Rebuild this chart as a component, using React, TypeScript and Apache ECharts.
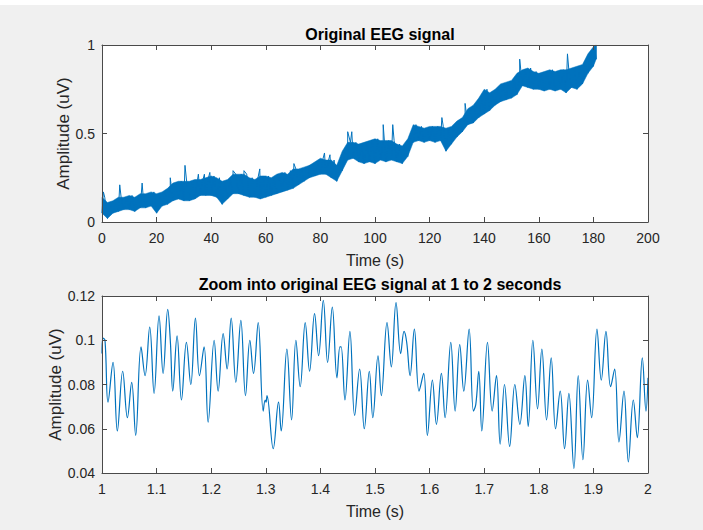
import React, { useEffect, useRef } from "react";
import * as echarts from "echarts";

// ---- Top panel: envelope of the dense EEG trace, read every 2 s (plus end at 181 s)
const topTime = [
  0, 2, 4, 6, 8, 10, 12, 14, 16, 18,
  20, 22, 24, 26, 28, 30, 32, 34, 36, 38,
  40, 42, 44, 46, 48, 50, 52, 54, 56, 58,
  60, 62, 64, 66, 68, 70, 72, 74, 76, 78,
  80, 82, 84, 86, 88, 90, 92, 94, 96, 98,
  100, 102, 104, 106, 108, 110, 112, 114, 116, 118,
  120, 122, 124, 126, 128, 130, 132, 134, 136, 138,
  140, 142, 144, 146, 148, 150, 152, 154, 156, 158,
  160, 162, 164, 166, 168, 170, 172, 174, 176, 178,
  180, 181,
];
const topLow = [
  0.05, 0.02, 0.05, 0.06, 0.07, 0.07, 0.06, 0.08, 0.08, 0.09,
  0.05, 0.09, 0.1, 0.12, 0.13, 0.12, 0.12, 0.13, 0.15, 0.15,
  0.15, 0.14, 0.1, 0.13, 0.16, 0.16, 0.15, 0.14, 0.14, 0.13,
  0.14, 0.15, 0.16, 0.17, 0.18, 0.19, 0.21, 0.23, 0.25, 0.26,
  0.27, 0.27, 0.25, 0.23, 0.29, 0.35, 0.36, 0.34, 0.33, 0.34,
  0.33, 0.35, 0.34, 0.35, 0.34, 0.33, 0.37, 0.45, 0.46, 0.45,
  0.46, 0.45, 0.46, 0.4, 0.44, 0.48, 0.51, 0.55, 0.56, 0.59,
  0.61, 0.63, 0.66, 0.68, 0.69, 0.7, 0.72, 0.77, 0.76, 0.75,
  0.75, 0.74, 0.75, 0.74, 0.75, 0.73, 0.76, 0.75, 0.78, 0.84,
  0.88, 0.92,
];
const topHigh = [
  0.14, 0.11, 0.12, 0.14, 0.14, 0.15, 0.14, 0.16, 0.16, 0.17,
  0.16, 0.17, 0.19, 0.22, 0.23, 0.23, 0.23, 0.24, 0.24, 0.25,
  0.26, 0.25, 0.23, 0.24, 0.27, 0.27, 0.27, 0.25, 0.24, 0.26,
  0.26, 0.25, 0.27, 0.28, 0.27, 0.3, 0.3, 0.31, 0.32, 0.34,
  0.36, 0.35, 0.35, 0.32, 0.4, 0.45, 0.45, 0.44, 0.45, 0.46,
  0.47, 0.46, 0.46, 0.46, 0.44, 0.43, 0.47, 0.55, 0.54, 0.53,
  0.54, 0.54, 0.54, 0.53, 0.54, 0.57, 0.59, 0.64, 0.66, 0.7,
  0.75, 0.73, 0.75, 0.78, 0.79, 0.8, 0.84, 0.86, 0.87, 0.85,
  0.84, 0.85, 0.86, 0.85, 0.86, 0.86, 0.87, 0.88, 0.89, 0.95,
  0.99, 1.0,
];
// isolated spikes above the band
const spikeTime = [0.5, 6.5, 14.7, 25, 30.4, 35.3, 37.5, 39.5, 48, 52, 57.8, 69, 70.3, 76, 81.5, 83.5, 90, 91.5, 103, 106.5, 124.5, 133, 153, 170.5];
const spikeValue = [0.17, 0.21, 0.22, 0.25, 0.32, 0.27, 0.27, 0.28, 0.29, 0.29, 0.3, 0.29, 0.33, 0.32, 0.39, 0.38, 0.51, 0.51, 0.55, 0.55, 0.59, 0.67, 0.92, 0.95];

// ---- Bottom panel: zoom 1-2 s, turning points of the trace
const zoomTime = [
  1.0, 1.0018, 1.0055, 1.011, 1.0202, 1.0281, 1.0379, 1.0465, 1.0544, 1.0617,
  1.0715, 1.0789, 1.0874, 1.0954, 1.1045, 1.1119, 1.1204, 1.1253, 1.1296, 1.1375,
  1.1455, 1.1546, 1.1626, 1.1711, 1.1785, 1.187, 1.1944, 1.2054, 1.2127, 1.2219,
  1.2292, 1.2366, 1.2451, 1.2543, 1.2628, 1.2708, 1.2775, 1.2861, 1.2952, 1.2989,
  1.3005, 1.3022, 1.3136, 1.3233, 1.3282, 1.3386, 1.3472, 1.3551, 1.363, 1.3722,
  1.3802, 1.3893, 1.3967, 1.4053, 1.4132, 1.4218, 1.4303, 1.4358, 1.438, 1.445,
  1.4541, 1.4627, 1.4719, 1.4804, 1.4896, 1.496, 1.5055, 1.5116, 1.522, 1.5299,
  1.5385, 1.547, 1.5532, 1.5581, 1.5642, 1.5721, 1.5807, 1.5892, 1.596, 1.6051,
  1.6125, 1.6216, 1.6284, 1.6388, 1.6467, 1.6552, 1.6626, 1.6724, 1.6803, 1.6846,
  1.6901, 1.6956, 1.706, 1.7146, 1.7225, 1.7292, 1.7372, 1.7466, 1.7561, 1.7653,
  1.7745, 1.7806, 1.7891, 1.7977, 1.8056, 1.8142, 1.8227, 1.8307, 1.8392, 1.8472,
  1.8551, 1.8643, 1.8722, 1.8808, 1.8894, 1.8968, 1.9065, 1.9144, 1.923, 1.9315,
  1.9389, 1.9468, 1.956, 1.964, 1.9731, 1.9804, 1.9896, 1.9963, 2.0,
];
const zoomAmp = [
  0.094, 0.101, 0.1, 0.072, 0.09, 0.059, 0.086, 0.065, 0.081, 0.057,
  0.097, 0.084, 0.106, 0.076, 0.111, 0.085, 0.114, 0.099, 0.077, 0.102,
  0.073, 0.099, 0.08, 0.11, 0.084, 0.097, 0.063, 0.1, 0.077, 0.103,
  0.087, 0.11, 0.081, 0.109, 0.075, 0.1, 0.085, 0.108, 0.068, 0.073,
  0.072, 0.075, 0.051, 0.072, 0.059, 0.096, 0.064, 0.1, 0.079, 0.108,
  0.086, 0.112, 0.093, 0.118, 0.09, 0.115, 0.083, 0.097, 0.097, 0.073,
  0.104, 0.066, 0.087, 0.06, 0.086, 0.065, 0.093, 0.075, 0.108, 0.088,
  0.117, 0.094, 0.104, 0.099, 0.084, 0.105, 0.077, 0.085, 0.057, 0.082,
  0.062, 0.085, 0.065, 0.099, 0.068, 0.098, 0.077, 0.105, 0.068, 0.071,
  0.086, 0.059, 0.099, 0.068, 0.084, 0.053, 0.08, 0.052, 0.08, 0.062,
  0.084, 0.061, 0.1, 0.069, 0.096, 0.064, 0.092, 0.06, 0.077, 0.051,
  0.076, 0.042, 0.084, 0.046, 0.082, 0.065, 0.105, 0.082, 0.104, 0.079,
  0.087, 0.054, 0.077, 0.045, 0.073, 0.056, 0.092, 0.068, 0.083,
];

const BLUE = "#0072BD";
const AXIS = "#4a4a4a";
const LABEL = "#262626";
const FONT = "'Liberation Sans', Arial, Helvetica, sans-serif";

function makeX(grid: number, min: number, max: number, interval: number) {
  const common: any = {
    type: "value",
    gridIndex: grid,
    min,
    max,
    interval,
    z: 10,
    splitLine: { show: false },
    axisLine: { show: true, onZero: false, lineStyle: { color: AXIS, width: 1 } },
    axisTick: { show: true, inside: true, length: 5, lineStyle: { color: AXIS } },
  };
  return [
    {
      ...common,
      position: "bottom",
      name: "Time (s)",
      nameLocation: "middle",
      nameGap: 30,
      nameTextStyle: { color: LABEL, fontSize: 16, fontFamily: FONT },
      axisLabel: { color: LABEL, fontSize: 14, margin: 9, fontFamily: FONT },
    },
    { ...common, position: "top", axisLabel: { show: false } },
  ];
}

function makeY(grid: number, min: number, max: number, interval: number, gap: number) {
  const common: any = {
    type: "value",
    gridIndex: grid,
    min,
    max,
    interval,
    z: 10,
    splitLine: { show: false },
    axisLine: { show: true, onZero: false, lineStyle: { color: AXIS, width: 1 } },
    axisTick: { show: true, inside: true, length: 5, lineStyle: { color: AXIS } },
  };
  return [
    {
      ...common,
      position: "left",
      name: "Amplitude (uV)",
      nameLocation: "middle",
      nameGap: gap,
      nameMoveOverlap: false,
      nameTextStyle: { color: LABEL, fontSize: 17, fontFamily: FONT },
      axisLabel: { color: LABEL, fontSize: 14, margin: 7, fontFamily: FONT },
    },
    { ...common, position: "right", axisLabel: { show: false } },
  ];
}

export default function App() {
  const ref = useRef<HTMLDivElement>(null);
  useEffect(() => {
    if (!ref.current) return;
    const chart = echarts.init(ref.current, undefined, { renderer: "svg" });

    // jagged trace: alternate between the lower and upper envelope, with spikes merged in
    const zig: number[][] = [];
    topTime.forEach((t, i) => {
      zig.push([t, topLow[i]]);
      const next = i < topTime.length - 1 ? topTime[i + 1] : t;
      zig.push([(t + next) / 2, topHigh[i]]);
    });
    spikeTime.forEach((t, i) => zig.push([t, spikeValue[i]]));
    zig.sort((a, b) => a[0] - b[0]);
    const zoomData = zoomTime.map((t, i) => [t, zoomAmp[i]]);
    const bandData = topTime.map((t, i) => [t, topLow[i], topHigh[i]]);

    chart.setOption({
      animation: false,
      backgroundColor: "#f0f0f0",
      textStyle: { fontFamily: FONT },
      title: [
        {
          text: "Original EEG signal",
          left: 375,
          top: 21,
          textAlign: "center",
          textStyle: { fontSize: 16, fontWeight: "bold", color: "#000", fontFamily: FONT },
        },
        {
          text: "Zoom into original EEG signal at 1 to 2 seconds",
          left: 375,
          top: 271,
          textAlign: "center",
          textStyle: { fontSize: 16, fontWeight: "bold", color: "#000", fontFamily: FONT },
        },
      ],
      graphic: [
        { type: "rect", shape: { x: 0, y: 0, width: 703, height: 5 }, style: { fill: "#ffffff" }, z: -1 },
      ],
      grid: [
        { left: 102, top: 45, width: 546, height: 177, show: true, backgroundColor: "#ffffff", borderWidth: 0 },
        { left: 102, top: 296, width: 546, height: 177, show: true, backgroundColor: "#ffffff", borderWidth: 0 },
      ],
      xAxis: [...makeX(0, 0, 200, 20), ...makeX(1, 1, 2, 0.1)],
      yAxis: [...makeY(0, 0, 1, 0.5, 30), ...makeY(1, 0.04, 0.12, 0.02, 38)],
      series: [
        {
          type: "custom",
          xAxisIndex: 0,
          yAxisIndex: 0,
          data: bandData,
          encode: { x: 0, y: [1, 2] },
          z: 2,
          silent: true,
          renderItem: (params: any, api: any) => {
            if (params.dataIndex !== 0) return null;
            const upper = bandData.map((d) => api.coord([d[0], d[2]]));
            const lower = bandData.map((d) => api.coord([d[0], d[1]])).reverse();
            return {
              type: "polygon",
              shape: { points: upper.concat(lower) },
              style: { fill: BLUE, stroke: BLUE, lineWidth: 0.5 },
            };
          },
        },
        {
          type: "line",
          xAxisIndex: 0,
          yAxisIndex: 0,
          data: zig,
          symbol: "none",
          z: 4,
          lineStyle: { color: BLUE, width: 1 },
          silent: true,
        },
        {
          type: "line",
          xAxisIndex: 2,
          yAxisIndex: 2,
          data: zoomData,
          symbol: "none",
          smooth: 0.4,
          lineStyle: { color: BLUE, width: 1.2 },
          silent: true,
        },
      ],
    });
    return () => chart.dispose();
  }, []);
  return (
    <div
      ref={ref}
      style={{ position: "fixed", left: 0, top: 0, width: 703, height: 530 }}
    />
  );
}
